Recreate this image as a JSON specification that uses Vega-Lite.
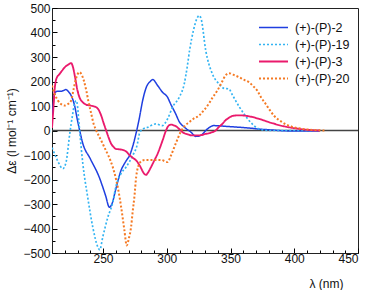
{
  "$schema": "https://vega.github.io/schema/vega-lite/v6.json",
  "width": 306,
  "height": 245,
  "autosize": "none",
  "padding": {"left": 52, "top": 8, "right": 12, "bottom": 37},
  "config": {
    "font": "Liberation Sans",
    "view": {"stroke": "#222", "strokeWidth": 1},
    "axis": {"domainColor": "#222", "tickColor": "#000", "tickWidth": 1, "labelColor": "#111", "titleColor": "#111", "labelFontSize": 12, "titleFontSize": 12, "titleFontWeight": "normal", "grid": false, "labelOverlap": false}
  },
  "datasets": {
    "zero": [{"y": 0}],
    "cd": [
      {"s": "(+)-(P)-2", "x": 210, "y": 55}, {"s": "(+)-(P)-2", "x": 211, "y": 110}, {"s": "(+)-(P)-2", "x": 212, "y": 150}, {"s": "(+)-(P)-2", "x": 214, "y": 160}, {"s": "(+)-(P)-2", "x": 217, "y": 160}, {"s": "(+)-(P)-2", "x": 219, "y": 163}, {"s": "(+)-(P)-2", "x": 221, "y": 167}, {"s": "(+)-(P)-2", "x": 223, "y": 158}, {"s": "(+)-(P)-2", "x": 225, "y": 143}, {"s": "(+)-(P)-2", "x": 227.7, "y": 102}, {"s": "(+)-(P)-2", "x": 230, "y": 41}, {"s": "(+)-(P)-2", "x": 231.5, "y": 5}, {"s": "(+)-(P)-2", "x": 234, "y": -50}, {"s": "(+)-(P)-2", "x": 240, "y": -115}, {"s": "(+)-(P)-2", "x": 247, "y": -190}, {"s": "(+)-(P)-2", "x": 252, "y": -265}, {"s": "(+)-(P)-2", "x": 255, "y": -313}, {"s": "(+)-(P)-2", "x": 257, "y": -300}, {"s": "(+)-(P)-2", "x": 260, "y": -240}, {"s": "(+)-(P)-2", "x": 264, "y": -165}, {"s": "(+)-(P)-2", "x": 268, "y": -125}, {"s": "(+)-(P)-2", "x": 271, "y": -100}, {"s": "(+)-(P)-2", "x": 273, "y": -70}, {"s": "(+)-(P)-2", "x": 276, "y": -10}, {"s": "(+)-(P)-2", "x": 278.5, "y": 50}, {"s": "(+)-(P)-2", "x": 281, "y": 120}, {"s": "(+)-(P)-2", "x": 284, "y": 177}, {"s": "(+)-(P)-2", "x": 287, "y": 200}, {"s": "(+)-(P)-2", "x": 289, "y": 208}, {"s": "(+)-(P)-2", "x": 292.8, "y": 184}, {"s": "(+)-(P)-2", "x": 296.7, "y": 156}, {"s": "(+)-(P)-2", "x": 300.6, "y": 136}, {"s": "(+)-(P)-2", "x": 303, "y": 109}, {"s": "(+)-(P)-2", "x": 307, "y": 68}, {"s": "(+)-(P)-2", "x": 310, "y": 34}, {"s": "(+)-(P)-2", "x": 313.7, "y": 14}, {"s": "(+)-(P)-2", "x": 319, "y": -7}, {"s": "(+)-(P)-2", "x": 322.8, "y": -24}, {"s": "(+)-(P)-2", "x": 326.7, "y": -20}, {"s": "(+)-(P)-2", "x": 332, "y": 7}, {"s": "(+)-(P)-2", "x": 337, "y": 20}, {"s": "(+)-(P)-2", "x": 346, "y": 17}, {"s": "(+)-(P)-2", "x": 352, "y": 15}, {"s": "(+)-(P)-2", "x": 360, "y": 12}, {"s": "(+)-(P)-2", "x": 367, "y": 9}, {"s": "(+)-(P)-2", "x": 372, "y": 6}, {"s": "(+)-(P)-2", "x": 380, "y": 3}, {"s": "(+)-(P)-2", "x": 388, "y": 0}, {"s": "(+)-(P)-2", "x": 400, "y": -2}, {"s": "(+)-(P)-2", "x": 420, "y": -2},
      {"s": "(+)-(P)-19", "x": 210, "y": -70}, {"s": "(+)-(P)-19", "x": 212, "y": -95}, {"s": "(+)-(P)-19", "x": 215, "y": -130}, {"s": "(+)-(P)-19", "x": 218.5, "y": -156}, {"s": "(+)-(P)-19", "x": 221, "y": -130}, {"s": "(+)-(P)-19", "x": 224, "y": -10}, {"s": "(+)-(P)-19", "x": 226, "y": 60}, {"s": "(+)-(P)-19", "x": 228, "y": 115}, {"s": "(+)-(P)-19", "x": 229, "y": 122}, {"s": "(+)-(P)-19", "x": 230, "y": 100}, {"s": "(+)-(P)-19", "x": 231, "y": 40}, {"s": "(+)-(P)-19", "x": 232, "y": -20}, {"s": "(+)-(P)-19", "x": 234.2, "y": -136}, {"s": "(+)-(P)-19", "x": 238, "y": -272}, {"s": "(+)-(P)-19", "x": 242, "y": -395}, {"s": "(+)-(P)-19", "x": 246, "y": -476}, {"s": "(+)-(P)-19", "x": 247.5, "y": -487}, {"s": "(+)-(P)-19", "x": 249.8, "y": -435}, {"s": "(+)-(P)-19", "x": 253.8, "y": -354}, {"s": "(+)-(P)-19", "x": 257.7, "y": -292}, {"s": "(+)-(P)-19", "x": 260, "y": -231}, {"s": "(+)-(P)-19", "x": 264, "y": -177}, {"s": "(+)-(P)-19", "x": 268, "y": -150}, {"s": "(+)-(P)-19", "x": 273.3, "y": -102}, {"s": "(+)-(P)-19", "x": 277, "y": -54}, {"s": "(+)-(P)-19", "x": 278.5, "y": -14}, {"s": "(+)-(P)-19", "x": 281, "y": 5}, {"s": "(+)-(P)-19", "x": 285, "y": 13}, {"s": "(+)-(P)-19", "x": 291.5, "y": 27}, {"s": "(+)-(P)-19", "x": 296.5, "y": 20}, {"s": "(+)-(P)-19", "x": 300.7, "y": 48}, {"s": "(+)-(P)-19", "x": 304.5, "y": 95}, {"s": "(+)-(P)-19", "x": 309.8, "y": 136}, {"s": "(+)-(P)-19", "x": 313.7, "y": 190}, {"s": "(+)-(P)-19", "x": 316, "y": 258}, {"s": "(+)-(P)-19", "x": 318, "y": 330}, {"s": "(+)-(P)-19", "x": 321, "y": 410}, {"s": "(+)-(P)-19", "x": 323.5, "y": 455}, {"s": "(+)-(P)-19", "x": 325.4, "y": 469}, {"s": "(+)-(P)-19", "x": 327, "y": 455}, {"s": "(+)-(P)-19", "x": 330.6, "y": 326}, {"s": "(+)-(P)-19", "x": 335.8, "y": 231}, {"s": "(+)-(P)-19", "x": 341, "y": 190}, {"s": "(+)-(P)-19", "x": 345, "y": 172}, {"s": "(+)-(P)-19", "x": 348.8, "y": 170}, {"s": "(+)-(P)-19", "x": 351, "y": 150}, {"s": "(+)-(P)-19", "x": 354, "y": 122}, {"s": "(+)-(P)-19", "x": 360.5, "y": 68}, {"s": "(+)-(P)-19", "x": 367, "y": 27}, {"s": "(+)-(P)-19", "x": 372, "y": 7}, {"s": "(+)-(P)-19", "x": 380, "y": 0}, {"s": "(+)-(P)-19", "x": 416, "y": 0},
      {"s": "(+)-(P)-3", "x": 210, "y": 10}, {"s": "(+)-(P)-3", "x": 211, "y": 82}, {"s": "(+)-(P)-3", "x": 212, "y": 163}, {"s": "(+)-(P)-3", "x": 213.4, "y": 211}, {"s": "(+)-(P)-3", "x": 216, "y": 231}, {"s": "(+)-(P)-3", "x": 218, "y": 245}, {"s": "(+)-(P)-3", "x": 220, "y": 258}, {"s": "(+)-(P)-3", "x": 223, "y": 270}, {"s": "(+)-(P)-3", "x": 225, "y": 275}, {"s": "(+)-(P)-3", "x": 226.5, "y": 258}, {"s": "(+)-(P)-3", "x": 228, "y": 220}, {"s": "(+)-(P)-3", "x": 230, "y": 163}, {"s": "(+)-(P)-3", "x": 232, "y": 130}, {"s": "(+)-(P)-3", "x": 234, "y": 116}, {"s": "(+)-(P)-3", "x": 237, "y": 105}, {"s": "(+)-(P)-3", "x": 240, "y": 102}, {"s": "(+)-(P)-3", "x": 244.7, "y": 95}, {"s": "(+)-(P)-3", "x": 246.5, "y": 85}, {"s": "(+)-(P)-3", "x": 248.6, "y": 61}, {"s": "(+)-(P)-3", "x": 250.5, "y": 30}, {"s": "(+)-(P)-3", "x": 252.5, "y": 0}, {"s": "(+)-(P)-3", "x": 254.5, "y": -30}, {"s": "(+)-(P)-3", "x": 256.4, "y": -54}, {"s": "(+)-(P)-3", "x": 258.5, "y": -68}, {"s": "(+)-(P)-3", "x": 260, "y": -75}, {"s": "(+)-(P)-3", "x": 263, "y": -77}, {"s": "(+)-(P)-3", "x": 266, "y": -80}, {"s": "(+)-(P)-3", "x": 268, "y": -85}, {"s": "(+)-(P)-3", "x": 270.7, "y": -100}, {"s": "(+)-(P)-3", "x": 273.5, "y": -112}, {"s": "(+)-(P)-3", "x": 276, "y": -122}, {"s": "(+)-(P)-3", "x": 279, "y": -145}, {"s": "(+)-(P)-3", "x": 282.4, "y": -177}, {"s": "(+)-(P)-3", "x": 283.8, "y": -181}, {"s": "(+)-(P)-3", "x": 285.5, "y": -170}, {"s": "(+)-(P)-3", "x": 287.6, "y": -150}, {"s": "(+)-(P)-3", "x": 290, "y": -125}, {"s": "(+)-(P)-3", "x": 292.8, "y": -95}, {"s": "(+)-(P)-3", "x": 296.7, "y": -41}, {"s": "(+)-(P)-3", "x": 299.4, "y": 0}, {"s": "(+)-(P)-3", "x": 301.5, "y": 20}, {"s": "(+)-(P)-3", "x": 303.3, "y": 24}, {"s": "(+)-(P)-3", "x": 305, "y": 22}, {"s": "(+)-(P)-3", "x": 307, "y": 18}, {"s": "(+)-(P)-3", "x": 310, "y": 5}, {"s": "(+)-(P)-3", "x": 312.4, "y": -7}, {"s": "(+)-(P)-3", "x": 316, "y": -15}, {"s": "(+)-(P)-3", "x": 320, "y": -20}, {"s": "(+)-(P)-3", "x": 325, "y": -20}, {"s": "(+)-(P)-3", "x": 330.6, "y": -14}, {"s": "(+)-(P)-3", "x": 335, "y": -8}, {"s": "(+)-(P)-3", "x": 338.4, "y": 0}, {"s": "(+)-(P)-3", "x": 341, "y": 15}, {"s": "(+)-(P)-3", "x": 343.6, "y": 27}, {"s": "(+)-(P)-3", "x": 346, "y": 41}, {"s": "(+)-(P)-3", "x": 348.8, "y": 52}, {"s": "(+)-(P)-3", "x": 352, "y": 60}, {"s": "(+)-(P)-3", "x": 357, "y": 62}, {"s": "(+)-(P)-3", "x": 364.5, "y": 58}, {"s": "(+)-(P)-3", "x": 372, "y": 48}, {"s": "(+)-(P)-3", "x": 382.7, "y": 30}, {"s": "(+)-(P)-3", "x": 393, "y": 16}, {"s": "(+)-(P)-3", "x": 403.5, "y": 7}, {"s": "(+)-(P)-3", "x": 412, "y": 2}, {"s": "(+)-(P)-3", "x": 420, "y": 0},
      {"s": "(+)-(P)-20", "x": 210, "y": 184}, {"s": "(+)-(P)-20", "x": 212, "y": 150}, {"s": "(+)-(P)-20", "x": 214.7, "y": 122}, {"s": "(+)-(P)-20", "x": 217, "y": 108}, {"s": "(+)-(P)-20", "x": 220, "y": 102}, {"s": "(+)-(P)-20", "x": 222.5, "y": 108}, {"s": "(+)-(P)-20", "x": 225, "y": 122}, {"s": "(+)-(P)-20", "x": 227, "y": 170}, {"s": "(+)-(P)-20", "x": 229, "y": 215}, {"s": "(+)-(P)-20", "x": 231.6, "y": 238}, {"s": "(+)-(P)-20", "x": 233.5, "y": 225}, {"s": "(+)-(P)-20", "x": 236.9, "y": 163}, {"s": "(+)-(P)-20", "x": 238.5, "y": 120}, {"s": "(+)-(P)-20", "x": 240.8, "y": 68}, {"s": "(+)-(P)-20", "x": 242.5, "y": 30}, {"s": "(+)-(P)-20", "x": 244.7, "y": 0}, {"s": "(+)-(P)-20", "x": 247, "y": -25}, {"s": "(+)-(P)-20", "x": 249.8, "y": -54}, {"s": "(+)-(P)-20", "x": 251, "y": -68}, {"s": "(+)-(P)-20", "x": 254, "y": -100}, {"s": "(+)-(P)-20", "x": 257.7, "y": -150}, {"s": "(+)-(P)-20", "x": 260.5, "y": -205}, {"s": "(+)-(P)-20", "x": 263, "y": -272}, {"s": "(+)-(P)-20", "x": 265, "y": -340}, {"s": "(+)-(P)-20", "x": 266.8, "y": -408}, {"s": "(+)-(P)-20", "x": 268.6, "y": -469}, {"s": "(+)-(P)-20", "x": 270.3, "y": -440}, {"s": "(+)-(P)-20", "x": 272, "y": -395}, {"s": "(+)-(P)-20", "x": 273.3, "y": -330}, {"s": "(+)-(P)-20", "x": 274.6, "y": -272}, {"s": "(+)-(P)-20", "x": 276, "y": -190}, {"s": "(+)-(P)-20", "x": 278.5, "y": -136}, {"s": "(+)-(P)-20", "x": 281, "y": -122}, {"s": "(+)-(P)-20", "x": 283.8, "y": -120}, {"s": "(+)-(P)-20", "x": 289, "y": -120}, {"s": "(+)-(P)-20", "x": 295.5, "y": -120}, {"s": "(+)-(P)-20", "x": 300.6, "y": -129}, {"s": "(+)-(P)-20", "x": 303.3, "y": -102}, {"s": "(+)-(P)-20", "x": 307, "y": -54}, {"s": "(+)-(P)-20", "x": 311, "y": -5}, {"s": "(+)-(P)-20", "x": 314, "y": 18}, {"s": "(+)-(P)-20", "x": 317.6, "y": 34}, {"s": "(+)-(P)-20", "x": 321, "y": 48}, {"s": "(+)-(P)-20", "x": 325.4, "y": 61}, {"s": "(+)-(P)-20", "x": 329, "y": 82}, {"s": "(+)-(P)-20", "x": 333, "y": 109}, {"s": "(+)-(P)-20", "x": 336, "y": 135}, {"s": "(+)-(P)-20", "x": 339.7, "y": 163}, {"s": "(+)-(P)-20", "x": 343, "y": 195}, {"s": "(+)-(P)-20", "x": 346, "y": 224}, {"s": "(+)-(P)-20", "x": 348.8, "y": 234}, {"s": "(+)-(P)-20", "x": 352, "y": 228}, {"s": "(+)-(P)-20", "x": 356.6, "y": 218}, {"s": "(+)-(P)-20", "x": 360, "y": 208}, {"s": "(+)-(P)-20", "x": 364.5, "y": 197}, {"s": "(+)-(P)-20", "x": 368, "y": 180}, {"s": "(+)-(P)-20", "x": 371, "y": 163}, {"s": "(+)-(P)-20", "x": 374, "y": 135}, {"s": "(+)-(P)-20", "x": 377.5, "y": 109}, {"s": "(+)-(P)-20", "x": 381, "y": 82}, {"s": "(+)-(P)-20", "x": 384, "y": 61}, {"s": "(+)-(P)-20", "x": 390.5, "y": 34}, {"s": "(+)-(P)-20", "x": 398, "y": 16}, {"s": "(+)-(P)-20", "x": 406, "y": 7}, {"s": "(+)-(P)-20", "x": 415, "y": 2}, {"s": "(+)-(P)-20", "x": 425, "y": 0}
    ]
  },
  "encoding": {
    "y": {
      "field": "y", "type": "quantitative",
      "scale": {"domain": [-500, 500], "nice": false},
      "axis": {
        "title": "Δε (l mol⁻¹ cm⁻¹)",
        "values": [-500,-450,-400,-350,-300,-250,-200,-150,-100,-50,0,50,100,150,200,250,300,350,400,450,500],
        "labelExpr": "datum.value % 100 === 0 ? datum.label : ''",
        "labelOverlap": false,
        "labelBound": false,
        "tickSize": {"condition": {"test": "datum.value % 100 === 0", "value": -5}, "value": -3},
        "labelPadding": 7,
        "titlePadding": 4
      }
    }
  },
  "layer": [
    {
      "data": {"name": "zero"},
      "mark": {"type": "rule", "color": "#444", "strokeWidth": 1.5}
    },
    {
      "data": {"name": "cd"},
      "mark": {"type": "line", "interpolate": "monotone", "clip": true},
      "encoding": {
        "x": {
          "field": "x", "type": "quantitative",
          "scale": {"domain": [210, 450], "nice": false, "zero": false},
          "axis": {
            "title": "λ (nm)",
            "values": [210,220,230,240,250,260,270,280,290,300,310,320,330,340,350,360,370,380,390,400,410,420,430,440,450],
            "labelExpr": "datum.value % 50 === 0 ? datum.label : ''",
            "labelOverlap": false,
            "labelBound": false,
            "tickSize": {"condition": {"test": "datum.value % 50 === 0", "value": -5}, "value": -3},
            "labelPadding": 5,
            "titleAnchor": "end",
            "titleX": 291,
            "titleY": 34,
            "titleAlign": "right",
            "titleBaseline": "alphabetic"
          }
        },
        "color": {
          "field": "s", "type": "nominal", "sort": null,
          "scale": {"domain": ["(+)-(P)-2", "(+)-(P)-19", "(+)-(P)-3", "(+)-(P)-20"], "range": ["#1f3fe0", "#33b4f2", "#ea1a6c", "#f57a24"]},
          "legend": {
            "title": null, "orient": "none", "legendX": 206, "legendY": 12,
            "symbolType": "stroke", "symbolSize": 841,
            "labelFontSize": 12.5, "labelColor": "#111", "rowPadding": 2, "clipHeight": 15, "labelOffset": 6
          }
        },
        "strokeDash": {
          "field": "s", "type": "nominal", "sort": null,
          "scale": {"domain": ["(+)-(P)-2", "(+)-(P)-19", "(+)-(P)-3", "(+)-(P)-20"], "range": [[1, 0], [2, 2], [1, 0], [2, 2]]},
          "legend": {
            "title": null, "orient": "none", "legendX": 206, "legendY": 12,
            "symbolType": "stroke", "symbolSize": 841,
            "labelFontSize": 12.5, "labelColor": "#111", "rowPadding": 2, "clipHeight": 15, "labelOffset": 6
          }
        },
        "strokeWidth": {
          "field": "s", "type": "nominal", "sort": null,
          "scale": {"domain": ["(+)-(P)-2", "(+)-(P)-19", "(+)-(P)-3", "(+)-(P)-20"], "range": [1.5, 2, 1.5, 2]},
          "legend": {
            "title": null, "orient": "none", "legendX": 206, "legendY": 12,
            "symbolType": "stroke", "symbolSize": 841,
            "labelFontSize": 12.5, "labelColor": "#111", "rowPadding": 2, "clipHeight": 15, "labelOffset": 6
          }
        }
      }
    }
  ]
}
